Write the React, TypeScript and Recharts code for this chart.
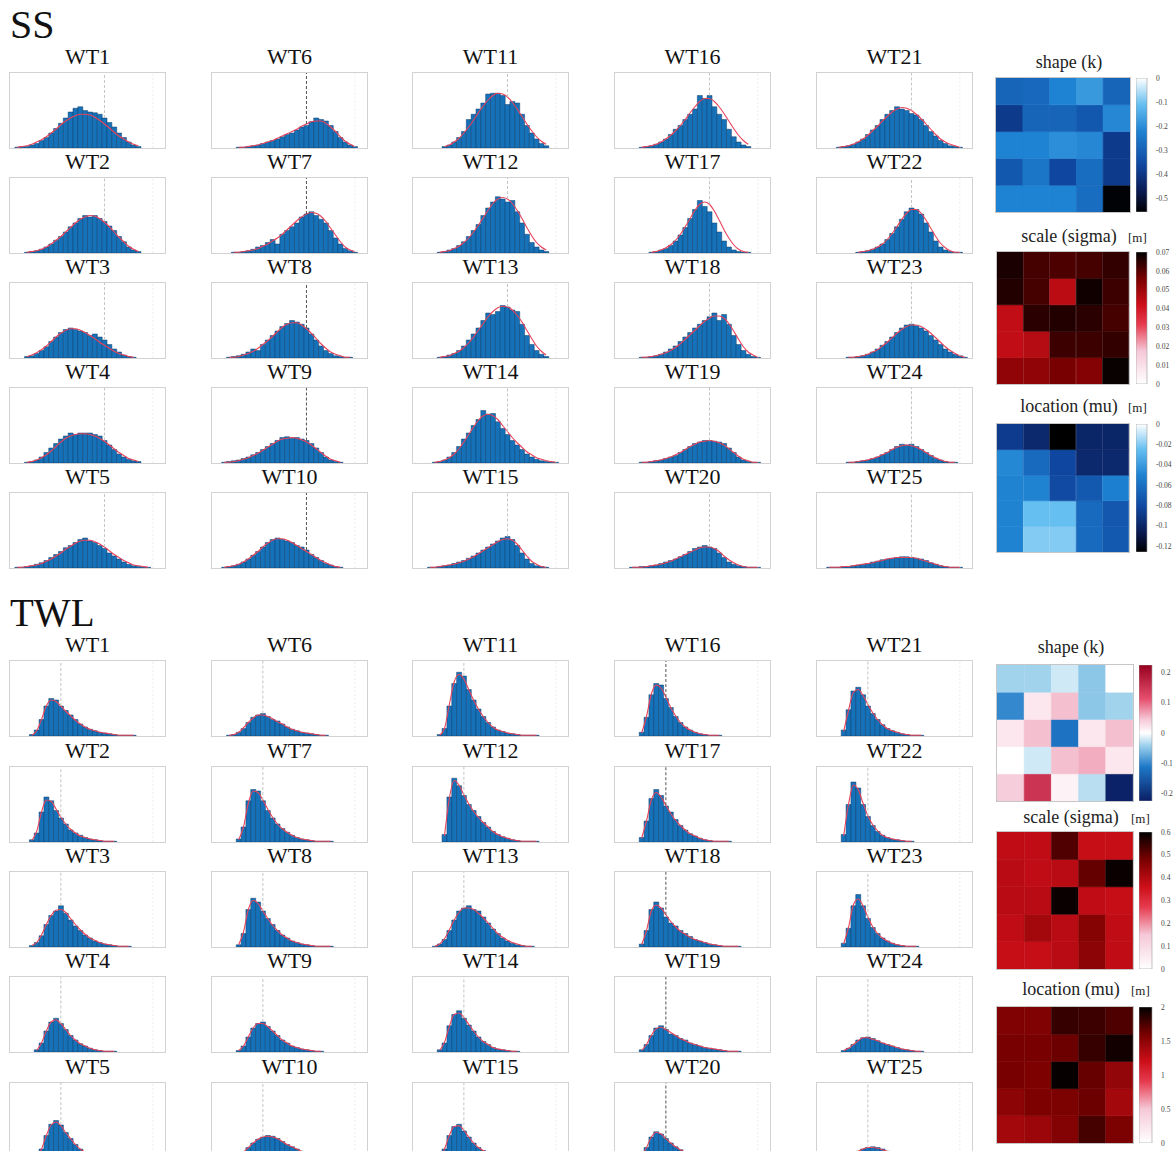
import React from 'react';
import { ComposedChart, BarChart, Bar, Line, XAxis, YAxis, ReferenceLine, Cell } from 'recharts';

// ---------- DATA ----------
const wtLabels = Array.from({ length: 25 }, (_, k) => `WT${k + 1}`);
const NB = 32; // histogram bins per panel

// SS histograms (WT1..WT25): first bin index, bar heights (% of panel), fitted curve
const ssStart = [1, 3, 3, 3, 1, 5, 4, 3, 2, 2, 6, 5, 5, 4, 3, 5, 7, 5, 5, 3, 4, 8, 6, 6, 2];
const ssBars = [
  [1, 2, 2, 4, 6, 10, 14, 20, 26, 33, 40, 48, 53, 55, 50, 48, 47, 45, 40, 34, 28, 20, 14, 8, 4, 2],
  [1, 2, 3, 5, 8, 12, 17, 22, 28, 35, 40, 46, 50, 48, 50, 46, 42, 36, 30, 22, 15, 8, 4, 2],
  [2, 3, 6, 10, 15, 22, 28, 34, 38, 40, 38, 36, 34, 30, 32, 28, 24, 18, 12, 8, 4, 2, 1],
  [1, 2, 4, 8, 14, 20, 26, 32, 36, 40, 38, 40, 40, 40, 38, 36, 30, 24, 18, 12, 8, 5, 3, 2],
  [1, 1, 2, 3, 5, 7, 10, 14, 18, 22, 27, 30, 34, 38, 40, 36, 34, 30, 26, 20, 16, 12, 8, 5, 3, 2, 1, 1],
  [1, 1, 2, 3, 4, 6, 8, 10, 12, 15, 18, 20, 24, 28, 30, 35, 40, 38, 36, 30, 22, 14, 8, 4, 2],
  [1, 1, 2, 3, 5, 8, 10, 14, 18, 12, 25, 30, 35, 40, 48, 52, 55, 50, 45, 40, 30, 20, 12, 6, 3, 1],
  [1, 2, 3, 5, 8, 12, 10, 18, 24, 30, 36, 42, 46, 50, 48, 45, 40, 32, 24, 16, 10, 6, 3, 2, 1, 1],
  [1, 2, 3, 4, 6, 8, 11, 14, 18, 22, 26, 30, 34, 35, 33, 34, 32, 30, 26, 20, 14, 8, 4, 2, 1],
  [1, 2, 3, 5, 8, 12, 17, 22, 28, 34, 38, 40, 38, 36, 34, 30, 28, 24, 18, 14, 10, 6, 4, 2, 1],
  [2, 4, 8, 14, 22, 38, 45, 52, 60, 72, 73, 73, 70, 58, 62, 60, 45, 30, 20, 12, 6, 3],
  [1, 2, 4, 6, 10, 15, 22, 30, 38, 50, 60, 68, 75, 72, 68, 70, 55, 40, 25, 14, 8, 4, 2],
  [1, 2, 4, 6, 10, 16, 24, 32, 40, 50, 60, 58, 62, 70, 68, 64, 62, 45, 30, 18, 10, 5, 2],
  [1, 2, 4, 8, 14, 22, 32, 40, 50, 58, 70, 65, 66, 55, 46, 38, 30, 24, 18, 12, 8, 5, 3, 2, 1, 1],
  [1, 1, 2, 3, 4, 6, 8, 10, 13, 16, 20, 24, 28, 32, 36, 40, 42, 38, 30, 20, 12, 6, 3, 2, 1],
  [1, 2, 3, 5, 8, 12, 18, 25, 30, 38, 45, 52, 70, 66, 70, 55, 45, 38, 25, 15, 8, 4, 2],
  [1, 2, 4, 6, 10, 16, 24, 34, 46, 58, 70, 62, 55, 40, 28, 16, 8, 4, 2, 1, 1],
  [1, 1, 2, 3, 5, 8, 12, 16, 22, 28, 34, 40, 45, 50, 55, 60, 50, 58, 45, 30, 18, 10, 5, 2, 1],
  [1, 1, 2, 3, 4, 6, 8, 10, 14, 18, 22, 26, 28, 30, 30, 29, 28, 26, 20, 14, 8, 4, 2, 1, 1],
  [1, 1, 2, 2, 3, 4, 6, 8, 10, 12, 15, 18, 22, 26, 28, 30, 28, 26, 20, 14, 8, 5, 3, 2, 1, 1, 1],
  [1, 2, 3, 5, 8, 12, 18, 24, 30, 38, 45, 50, 55, 52, 50, 46, 44, 38, 30, 22, 16, 10, 6, 3, 2, 1],
  [1, 2, 3, 5, 8, 12, 18, 26, 35, 45, 55, 60, 58, 52, 40, 28, 16, 8, 4, 2, 1, 1],
  [1, 1, 2, 3, 5, 8, 12, 17, 22, 28, 34, 40, 44, 45, 43, 40, 36, 30, 24, 18, 12, 8, 5, 3, 1],
  [1, 1, 2, 3, 4, 6, 8, 11, 14, 18, 22, 25, 24, 25, 22, 18, 14, 10, 6, 4, 2, 1, 1],
  [1, 1, 1, 2, 2, 3, 4, 5, 6, 8, 9, 11, 12, 13, 14, 15, 15, 14, 13, 12, 10, 7, 5, 3, 2, 1, 1, 1],
];
const ssFit = [
  [1, 2, 3, 5, 8, 11, 15, 20, 25, 31, 36, 40, 43, 45, 45, 44, 41, 37, 32, 27, 21, 16, 12, 8, 5, 3],
  [1, 2, 3, 5, 8, 12, 17, 22, 28, 34, 40, 45, 48, 50, 49, 46, 41, 35, 28, 21, 15, 9, 5, 2],
  [2, 4, 7, 11, 16, 22, 28, 33, 37, 39, 39, 37, 34, 30, 26, 21, 17, 13, 9, 6, 4, 2, 1],
  [1, 2, 4, 7, 11, 16, 22, 28, 33, 36, 38, 39, 39, 38, 36, 33, 29, 24, 19, 14, 10, 6, 4, 2],
  [1, 1, 2, 3, 4, 6, 9, 12, 16, 20, 25, 29, 33, 36, 37, 37, 35, 32, 28, 23, 18, 14, 10, 7, 4, 3, 2, 1],
  [1, 1, 2, 3, 4, 6, 8, 10, 13, 16, 19, 22, 25, 29, 32, 35, 36, 36, 33, 28, 22, 15, 9, 5, 2],
  [1, 1, 2, 3, 4, 6, 9, 12, 16, 20, 25, 31, 37, 43, 48, 52, 54, 53, 49, 42, 33, 24, 15, 8, 4, 2],
  [1, 1, 2, 4, 6, 9, 13, 18, 23, 29, 35, 41, 45, 47, 47, 44, 39, 33, 26, 19, 13, 8, 5, 3, 1, 1],
  [1, 1, 2, 3, 5, 7, 10, 13, 17, 21, 25, 29, 32, 33, 34, 33, 31, 28, 24, 19, 14, 9, 5, 3, 1],
  [1, 2, 3, 5, 8, 12, 17, 22, 28, 33, 37, 39, 39, 37, 34, 30, 26, 22, 18, 14, 10, 7, 4, 2, 1],
  [2, 4, 8, 13, 20, 28, 37, 47, 56, 64, 70, 73, 72, 68, 61, 52, 42, 32, 23, 15, 9, 5],
  [1, 2, 3, 6, 9, 14, 20, 28, 37, 47, 57, 66, 72, 74, 72, 66, 57, 46, 34, 23, 14, 8, 4],
  [1, 2, 3, 6, 9, 14, 20, 28, 37, 46, 55, 62, 67, 69, 68, 64, 57, 48, 37, 26, 16, 9, 4],
  [1, 2, 4, 7, 12, 19, 28, 38, 48, 57, 63, 65, 63, 58, 50, 42, 34, 27, 21, 15, 11, 7, 5, 3, 2, 1],
  [1, 1, 2, 3, 4, 5, 7, 9, 12, 15, 19, 23, 27, 31, 35, 38, 39, 37, 32, 24, 16, 9, 5, 2, 1],
  [1, 2, 3, 5, 8, 12, 17, 23, 30, 38, 47, 55, 62, 66, 66, 62, 55, 46, 36, 26, 17, 10, 5],
  [1, 2, 4, 7, 11, 17, 25, 35, 46, 57, 65, 68, 65, 56, 44, 31, 20, 11, 5, 2, 1],
  [1, 1, 2, 3, 5, 7, 10, 14, 19, 25, 31, 37, 43, 49, 53, 56, 56, 53, 46, 36, 25, 15, 8, 4, 1],
  [1, 1, 2, 3, 4, 6, 8, 11, 14, 18, 22, 25, 28, 29, 30, 29, 27, 24, 19, 14, 9, 5, 3, 1, 1],
  [1, 1, 1, 2, 3, 4, 5, 7, 9, 12, 15, 18, 21, 24, 27, 28, 28, 26, 22, 16, 11, 7, 4, 2, 1, 1, 1],
  [1, 2, 3, 5, 8, 12, 17, 23, 29, 36, 42, 48, 52, 54, 53, 50, 45, 39, 32, 25, 18, 12, 8, 5, 3, 1],
  [1, 2, 3, 5, 8, 12, 18, 26, 35, 45, 53, 58, 58, 53, 44, 33, 22, 13, 7, 3, 1, 1],
  [1, 1, 2, 3, 5, 8, 11, 16, 21, 27, 33, 38, 42, 44, 44, 42, 38, 33, 27, 21, 15, 10, 6, 3, 1],
  [1, 1, 2, 3, 4, 6, 8, 11, 14, 18, 21, 23, 24, 23, 21, 18, 14, 10, 7, 4, 2, 1, 1],
  [1, 1, 1, 2, 2, 3, 4, 5, 6, 7, 9, 10, 12, 13, 14, 14, 14, 14, 13, 11, 9, 7, 5, 3, 2, 1, 1, 1],
];

// TWL histograms (WT1..WT25)
const twlStart = [4, 4, 4, 5, 5, 3, 5, 5, 5, 3, 5, 6, 4, 5, 5, 5, 5, 5, 5, 5, 5, 5, 5, 5, 5];
const twlBars = [
  [2, 8, 22, 40, 50, 48, 40, 34, 28, 22, 16, 12, 9, 7, 5, 4, 3, 2, 1, 1, 1, 1],
  [3, 12, 40, 60, 55, 42, 32, 24, 16, 12, 9, 6, 4, 3, 2, 1, 1, 1],
  [2, 6, 15, 30, 42, 48, 55, 45, 36, 28, 22, 16, 12, 8, 6, 4, 3, 2, 1, 1, 1],
  [3, 12, 28, 40, 45, 38, 30, 22, 16, 11, 8, 5, 3, 2, 1, 1, 1],
  [3, 12, 30, 45, 50, 44, 34, 26, 18, 12, 8, 5, 3, 2, 1, 1],
  [1, 2, 5, 10, 18, 25, 28, 30, 26, 22, 20, 16, 12, 9, 7, 5, 4, 3, 2, 1, 1],
  [4, 20, 55, 70, 68, 55, 42, 32, 24, 18, 13, 9, 6, 4, 3, 2, 1, 1, 1, 1],
  [3, 18, 50, 65, 60, 48, 38, 30, 22, 16, 12, 8, 6, 4, 3, 2, 1, 1, 1, 1],
  [2, 8, 20, 32, 38, 40, 34, 28, 22, 16, 12, 8, 6, 4, 3, 2, 1, 1],
  [1, 2, 4, 8, 14, 20, 25, 28, 30, 29, 26, 22, 18, 15, 12, 9, 7, 5, 4, 3, 2, 1, 1, 1],
  [2, 10, 40, 70, 85, 80, 62, 48, 36, 26, 18, 12, 8, 6, 4, 3, 2, 1, 1, 1, 1],
  [10, 60, 85, 75, 62, 50, 42, 34, 26, 20, 14, 10, 7, 5, 3, 2, 1, 1, 1, 1],
  [1, 4, 10, 22, 36, 48, 52, 55, 50, 48, 40, 32, 24, 18, 12, 8, 5, 3, 2, 1, 1],
  [3, 12, 35, 50, 55, 45, 36, 28, 20, 14, 10, 6, 4, 3, 2, 1, 1],
  [3, 12, 30, 42, 45, 36, 28, 20, 14, 10, 7, 5, 3, 2, 1, 1],
  [5, 25, 55, 70, 68, 50, 38, 26, 18, 12, 8, 5, 3, 2, 1, 1, 1],
  [6, 28, 58, 70, 62, 48, 40, 30, 22, 16, 11, 8, 5, 3, 2, 1, 1, 1, 1],
  [4, 22, 50, 60, 52, 40, 32, 28, 22, 18, 14, 10, 8, 6, 4, 3, 2, 1, 1, 1, 1],
  [3, 10, 22, 32, 35, 30, 24, 22, 18, 16, 12, 10, 8, 6, 5, 4, 3, 2, 1, 1, 1],
  [4, 14, 28, 35, 32, 26, 20, 15, 11, 8, 6, 4, 3, 2, 1, 1],
  [8, 35, 60, 65, 55, 40, 30, 22, 15, 10, 7, 5, 3, 2, 1, 1, 1],
  [10, 50, 80, 72, 50, 34, 22, 14, 9, 6, 4, 3, 2, 1, 1],
  [5, 25, 55, 70, 55, 38, 26, 18, 12, 8, 5, 3, 2, 1, 1, 1],
  [2, 5, 10, 16, 19, 20, 18, 15, 12, 10, 8, 6, 4, 3, 2, 1, 1],
  [1, 2, 5, 9, 12, 14, 15, 14, 12, 9, 6, 4, 3, 2, 1, 1],
];
const twlFit = [
  [1, 7, 22, 40, 48, 46, 40, 33, 27, 21, 16, 12, 9, 7, 5, 4, 3, 2, 1, 1, 1, 1],
  [2, 14, 40, 56, 54, 44, 33, 24, 17, 12, 8, 6, 4, 3, 2, 1, 1, 1],
  [2, 6, 16, 30, 42, 49, 50, 46, 38, 30, 23, 17, 12, 9, 6, 4, 3, 2, 1, 1, 1],
  [2, 12, 28, 40, 43, 38, 30, 22, 16, 11, 8, 5, 3, 2, 1, 1, 1],
  [2, 12, 30, 44, 48, 43, 34, 26, 18, 12, 8, 5, 3, 2, 1, 1],
  [1, 2, 5, 11, 18, 24, 28, 28, 26, 23, 19, 16, 12, 9, 7, 5, 4, 3, 2, 1, 1],
  [3, 20, 52, 68, 66, 56, 44, 33, 24, 18, 13, 9, 6, 4, 3, 2, 1, 1, 1, 1],
  [3, 20, 50, 62, 58, 48, 38, 29, 22, 16, 12, 8, 6, 4, 3, 2, 1, 1, 1, 1],
  [2, 8, 20, 32, 38, 38, 34, 28, 22, 16, 12, 8, 6, 4, 3, 2, 1, 1],
  [1, 2, 4, 8, 14, 20, 25, 28, 29, 28, 26, 22, 18, 15, 12, 9, 7, 5, 4, 3, 2, 1, 1, 1],
  [1, 10, 42, 72, 82, 76, 62, 48, 36, 26, 18, 12, 8, 6, 4, 3, 2, 1, 1, 1, 1],
  [8, 58, 82, 76, 63, 51, 41, 33, 26, 20, 14, 10, 7, 5, 3, 2, 1, 1, 1, 1],
  [1, 4, 11, 23, 36, 46, 52, 52, 50, 45, 39, 32, 25, 18, 13, 9, 6, 4, 2, 1, 1],
  [2, 13, 34, 50, 52, 46, 37, 28, 20, 14, 10, 6, 4, 3, 2, 1, 1],
  [2, 12, 30, 42, 43, 37, 28, 20, 14, 10, 7, 5, 3, 2, 1, 1],
  [4, 26, 56, 68, 64, 52, 38, 27, 18, 12, 8, 5, 3, 2, 1, 1, 1],
  [5, 28, 56, 66, 60, 49, 38, 29, 22, 16, 11, 8, 5, 3, 2, 1, 1, 1, 1],
  [3, 22, 48, 56, 52, 43, 34, 27, 21, 17, 13, 10, 8, 6, 4, 3, 2, 1, 1, 1, 1],
  [2, 10, 22, 31, 33, 30, 26, 22, 18, 15, 12, 10, 8, 6, 5, 4, 3, 2, 1, 1, 1],
  [3, 14, 28, 34, 32, 26, 20, 15, 11, 8, 6, 4, 3, 2, 1, 1],
  [6, 34, 58, 62, 54, 42, 31, 22, 15, 10, 7, 5, 3, 2, 1, 1, 1],
  [8, 50, 76, 70, 52, 35, 23, 15, 9, 6, 4, 3, 2, 1, 1],
  [4, 26, 56, 64, 55, 40, 27, 18, 12, 8, 5, 3, 2, 1, 1, 1],
  [2, 5, 10, 15, 19, 19, 17, 15, 12, 10, 8, 6, 4, 3, 2, 1, 1],
  [1, 2, 5, 9, 12, 14, 14, 13, 11, 9, 6, 4, 3, 2, 1, 1],
];
const ssMarkBin = 19;
const twlMarkBin = 10;
const farMarkBin = 29;

// Heatmap matrices (5x5, top row first)
const ssShape = [
  [-0.29, -0.28, -0.22, -0.18, -0.29],
  [-0.39, -0.29, -0.29, -0.32, -0.21],
  [-0.22, -0.22, -0.2, -0.21, -0.39],
  [-0.32, -0.25, -0.36, -0.27, -0.39],
  [-0.22, -0.22, -0.22, -0.27, -0.55],
];
const ssScale = [
  [0.067, 0.062, 0.061, 0.062, 0.064],
  [0.066, 0.062, 0.045, 0.068, 0.063],
  [0.044, 0.065, 0.066, 0.065, 0.062],
  [0.044, 0.046, 0.063, 0.063, 0.064],
  [0.052, 0.052, 0.056, 0.054, 0.069],
];
const ssLocation = [
  [-0.088, -0.098, -0.126, -0.1, -0.1],
  [-0.048, -0.063, -0.082, -0.098, -0.098],
  [-0.05, -0.05, -0.08, -0.072, -0.052],
  [-0.05, -0.025, -0.025, -0.063, -0.073],
  [-0.05, -0.02, -0.02, -0.063, -0.072],
];
const twlShape = [
  [-0.04, -0.04, -0.02, -0.05, 0.0],
  [-0.1, 0.02, 0.05, -0.05, -0.04],
  [0.02, 0.05, -0.12, 0.02, 0.05],
  [0.0, -0.02, 0.05, 0.06, 0.02],
  [0.04, 0.15, 0.01, -0.03, -0.22],
];
const twlScale = [
  [0.38, 0.38, 0.52, 0.37, 0.37],
  [0.39, 0.38, 0.39, 0.5, 0.59],
  [0.39, 0.39, 0.59, 0.38, 0.37],
  [0.38, 0.42, 0.39, 0.46, 0.38],
  [0.37, 0.37, 0.39, 0.45, 0.38],
];
const twlLocation = [
  [1.56, 1.56, 1.82, 1.8, 1.74],
  [1.6, 1.6, 1.64, 1.82, 1.94],
  [1.6, 1.57, 1.98, 1.66, 1.48],
  [1.5, 1.57, 1.58, 1.64, 1.4],
  [1.4, 1.44, 1.55, 1.77, 1.58],
];
const ssShapeTicks = [0, -0.1, -0.2, -0.3, -0.4, -0.5];
const ssScaleTicks = [0, 0.01, 0.02, 0.03, 0.04, 0.05, 0.06, 0.07];
const ssLocationTicks = [0, -0.02, -0.04, -0.06, -0.08, -0.1, -0.12];
const twlShapeTicks = [0.2, 0.1, 0, -0.1, -0.2];
const twlScaleTicks = [0, 0.1, 0.2, 0.3, 0.4, 0.5, 0.6];
const twlLocationTicks = [0, 0.5, 1, 1.5, 2];

// ---------- STYLE / LAYOUT ----------
type Stop = [number, [number, number, number]];
const blueStops: Stop[] = [[0, [0, 0, 0]], [0.15, [10, 25, 80]], [0.35, [15, 70, 160]], [0.6, [30, 130, 210]], [0.8, [100, 190, 240]], [1, [255, 255, 255]]];
const redStops: Stop[] = [[0, [255, 255, 255]], [0.25, [245, 200, 215]], [0.45, [230, 60, 80]], [0.6, [205, 15, 25]], [0.8, [120, 0, 0]], [1, [0, 0, 0]]];
const divStops: Stop[] = [[0, [10, 30, 100]], [0.25, [30, 120, 200]], [0.4, [150, 205, 235]], [0.5, [255, 255, 255]], [0.6, [245, 200, 215]], [0.75, [230, 80, 110]], [1, [150, 0, 30]]];

function cmap(stops: Stop[], t: number): string {
  const x = Math.max(0, Math.min(1, t));
  for (let i = 1; i < stops.length; i++) {
    if (x <= stops[i][0]) {
      const [t0, c0] = stops[i - 1];
      const [t1, c1] = stops[i];
      const f = (x - t0) / (t1 - t0);
      const c = c0.map((v, j) => Math.round(v + (c1[j] - v) * f));
      return `rgb(${c[0]},${c[1]},${c[2]})`;
    }
  }
  const l = stops[stops.length - 1][1];
  return `rgb(${l[0]},${l[1]},${l[2]})`;
}

const SERIF = "'Liberation Serif', 'Times New Roman', serif";
const PW = 155;
const PH = 75;
const colLeft = [10, 212, 413, 615, 817];
const ssRowTop = [73, 178, 283, 388, 493];
const twlRowTop = [661, 767, 872, 977, 1083];

function Hist({ bars, fit, start, mark, dark }: { bars: number[]; fit: number[]; start: number; mark: number; dark: boolean }) {
  const data = Array.from({ length: NB }, (_, i) => {
    const k = i - start;
    return {
      i,
      h: k >= 0 && k < bars.length ? bars[k] : 0,
      f: k >= 0 && k < fit.length ? fit[k] : null,
    };
  });
  const markTop = Math.max(data[mark].h, data[mark].f ?? 0);
  const farTop = Math.max(data[farMarkBin].h, data[farMarkBin].f ?? 0);
  return (
    <ComposedChart width={PW} height={PH} data={data} margin={{ top: 0, right: 0, bottom: 0, left: 0 }} barCategoryGap={0} barGap={0}>
      <XAxis dataKey="i" type="category" hide />
      <YAxis domain={[0, 100]} hide />
      <Bar dataKey="h" fill="#1572b9" stroke="#143f6a" strokeWidth={0.5} isAnimationActive={false} />
      <Line dataKey="f" type="monotone" stroke="#e8425a" strokeWidth={1.1} dot={false} isAnimationActive={false} />
      <ReferenceLine
        segment={[{ x: mark, y: markTop }, { x: mark, y: 100 }]}
        stroke={dark ? '#555' : '#c4c4c4'}
        strokeDasharray="3 2"
        strokeWidth={1}
      />
      <ReferenceLine
        segment={[{ x: farMarkBin, y: farTop }, { x: farMarkBin, y: 100 }]}
        stroke="#ececec"
        strokeDasharray="2 2"
        strokeWidth={1}
      />
    </ComposedChart>
  );
}

function Panel({ label, left, top, children }: { label: string; left: number; top: number; children: React.ReactNode }) {
  return (
    <>
      <div style={{ position: 'absolute', left, top: top - 28, width: PW, textAlign: 'center', fontFamily: SERIF, fontSize: 22, lineHeight: '24px', color: '#111' }}>{label}</div>
      <div style={{ position: 'absolute', left: left - 1, top: top - 1, width: PW, height: PH, border: '1px solid #d2d2d2', background: '#fff' }}>{children}</div>
    </>
  );
}

function Heat({ matrix, stops, min, max, w, h }: { matrix: number[][]; stops: Stop[]; min: number; max: number; w: number; h: number }) {
  const cols = [0, 1, 2, 3, 4];
  const data = cols.map((c) => ({ c, r0: 1, r1: 1, r2: 1, r3: 1, r4: 1 }));
  return (
    <BarChart width={w} height={h} data={data} margin={{ top: 0, right: 0, bottom: 0, left: 0 }} barCategoryGap={0} barGap={0}>
      <XAxis dataKey="c" type="category" hide />
      <YAxis domain={[0, 5]} hide />
      {[0, 1, 2, 3, 4].map((r) => (
        <Bar key={r} dataKey={`r${r}`} stackId="s" isAnimationActive={false}>
          {cols.map((c) => {
            const v = matrix[4 - r][c];
            const col = cmap(stops, (v - min) / (max - min));
            return <Cell key={c} fill={col} stroke={col} strokeWidth={0.6} />;
          })}
        </Bar>
      ))}
    </BarChart>
  );
}

function ColorBar({ id, stops, min, max, ticks, w, h }: { id: string; stops: Stop[]; min: number; max: number; ticks: number[]; w: number; h: number }) {
  const gs = Array.from({ length: 21 }, (_, i) => i / 20);
  return (
    <BarChart width={w + 32} height={h + 10} data={[{ k: 'cb', r: [min, max] }]} margin={{ top: 5, right: 0, bottom: 5, left: 0 }} barCategoryGap={0}>
      <defs>
        <linearGradient id={id} x1="0" y1="1" x2="0" y2="0">
          {gs.map((t) => (
            <stop key={t} offset={t} stopColor={cmap(stops, t)} />
          ))}
        </linearGradient>
      </defs>
      <XAxis dataKey="k" type="category" hide />
      <YAxis
        orientation="right"
        domain={[min, max]}
        ticks={ticks}
        interval={0}
        width={32}
        allowDataOverflow
        axisLine={false}
        tickLine={false}
        tickMargin={3}
        tick={{ fontSize: 7.5, fill: '#444', fontFamily: SERIF }}
      />
      <Bar dataKey="r" fill={`url(#${id})`} stroke="#9a9a9a" strokeWidth={0.6} isAnimationActive={false} />
    </BarChart>
  );
}

type HeatSpec = {
  id: string; title: string; unit: boolean; matrix: number[][]; stops: Stop[]; min: number; max: number; ticks: number[];
  left: number; top: number; w: number; h: number; cbLeft: number; cbW: number; titleY: number;
};

const heatSpecs: HeatSpec[] = [
  { id: 'g1', title: 'shape (k)', unit: false, matrix: ssShape, stops: blueStops, min: -0.555, max: 0, ticks: ssShapeTicks, left: 996, top: 78, w: 134, h: 134, cbLeft: 1136, cbW: 11, titleY: 63 },
  { id: 'g2', title: 'scale (sigma)', unit: true, matrix: ssScale, stops: redStops, min: 0, max: 0.07, ticks: ssScaleTicks, left: 997, top: 252, w: 132, h: 132, cbLeft: 1136, cbW: 11, titleY: 237 },
  { id: 'g3', title: 'location (mu)', unit: true, matrix: ssLocation, stops: blueStops, min: -0.126, max: 0, ticks: ssLocationTicks, left: 997, top: 424, w: 132, h: 128, cbLeft: 1136, cbW: 11, titleY: 407 },
  { id: 'g4', title: 'shape (k)', unit: false, matrix: twlShape, stops: divStops, min: -0.225, max: 0.225, ticks: twlShapeTicks, left: 997, top: 665, w: 136, h: 136, cbLeft: 1139, cbW: 13, titleY: 648 },
  { id: 'g5', title: 'scale (sigma)', unit: true, matrix: twlScale, stops: redStops, min: 0, max: 0.6, ticks: twlScaleTicks, left: 997, top: 832, w: 136, h: 137, cbLeft: 1139, cbW: 13, titleY: 818 },
  { id: 'g6', title: 'location (mu)', unit: true, matrix: twlLocation, stops: redStops, min: 0, max: 2, ticks: twlLocationTicks, left: 997, top: 1007, w: 136, h: 136, cbLeft: 1139, cbW: 13, titleY: 990 },
];

export default function App() {
  return (
    <div style={{ position: 'absolute', left: 0, top: 0, width: 1174, height: 1151, overflow: 'hidden', background: '#fff', fontFamily: SERIF }}>
      <div style={{ position: 'absolute', left: 10, top: 5, fontSize: 40, lineHeight: '40px', fontFamily: SERIF, color: '#111' }}>SS</div>
      <div style={{ position: 'absolute', left: 10, top: 593, fontSize: 39, lineHeight: '39px', fontFamily: SERIF, color: '#111' }}>TWL</div>

      {wtLabels.map((lab, k) => {
        const col = Math.floor(k / 5);
        const row = k % 5;
        return (
          <Panel key={`ss${k}`} label={lab} left={colLeft[col]} top={ssRowTop[row]}>
            <Hist bars={ssBars[k]} fit={ssFit[k]} start={ssStart[k]} mark={ssMarkBin} dark={col === 1} />
          </Panel>
        );
      })}
      {wtLabels.map((lab, k) => {
        const col = Math.floor(k / 5);
        const row = k % 5;
        return (
          <Panel key={`twl${k}`} label={lab} left={colLeft[col]} top={twlRowTop[row]}>
            <Hist bars={twlBars[k]} fit={twlFit[k]} start={twlStart[k]} mark={twlMarkBin} dark={col === 3} />
          </Panel>
        );
      })}

      {heatSpecs.map((s) => (
        <React.Fragment key={s.id}>
          <div style={{ position: 'absolute', left: s.left - 4, width: s.w + 20, top: s.titleY - 11, textAlign: 'center', fontFamily: SERIF, fontSize: 18, lineHeight: '20px', color: '#222' }}>{s.title}</div>
          {s.unit && (
            <div style={{ position: 'absolute', left: s.cbLeft - 8, top: s.titleY - 6, fontFamily: SERIF, fontSize: 13, lineHeight: '14px', color: '#222' }}>[m]</div>
          )}
          <div style={{ position: 'absolute', left: s.left - 1, top: s.top - 1, width: s.w, height: s.h, border: '1px solid #c6c6c6' }}>
            <Heat matrix={s.matrix} stops={s.stops} min={s.min} max={s.max} w={s.w} h={s.h} />
          </div>
          <div style={{ position: 'absolute', left: s.cbLeft, top: s.top - 5 }}>
            <ColorBar id={s.id} stops={s.stops} min={s.min} max={s.max} ticks={s.ticks} w={s.cbW} h={s.h} />
          </div>
        </React.Fragment>
      ))}
    </div>
  );
}
